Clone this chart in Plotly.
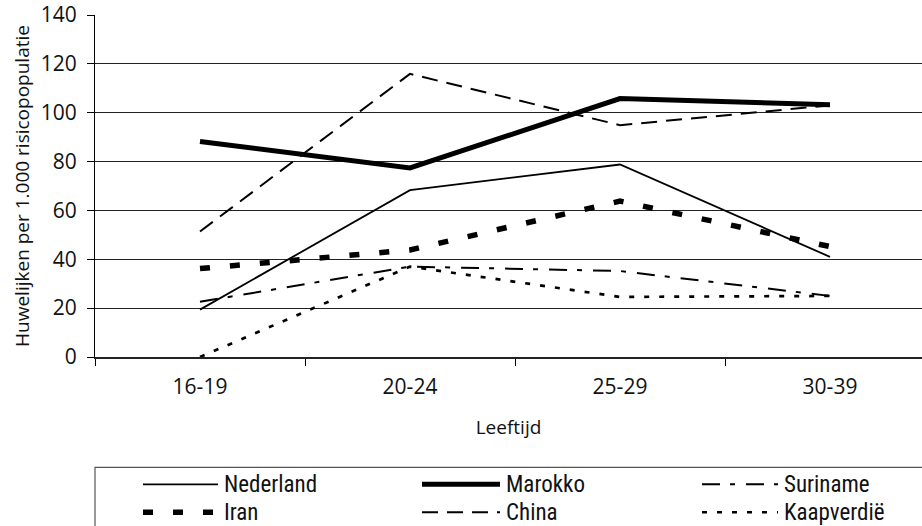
import plotly.graph_objects as go

# ---- data ----
age_groups = ["16-19", "20-24", "25-29", "30-39"]
nederland = [19.4, 68.3, 78.8, 41.0]
marokko = [88.2, 77.4, 105.8, 103.3]
suriname = [22.6, 37.0, 35.2, 25.0]
iran = [36.2, 43.8, 63.8, 45.2]
china = [51.4, 115.9, 94.9, 103.0]
kaapverdie = [0.0, 37.0, 24.6, 25.0]

series_names = ["Nederland", "Marokko", "Suriname", "Iran", "China", "Kaapverdië"]
series_values = [nederland, marokko, suriname, iran, china, kaapverdie]

y_ticks = [0, 20, 40, 60, 80, 100, 120, 140]

# ---- styles ----
styles = {
    "Nederland": dict(width=1.8, dash="solid"),
    "Marokko": dict(width=5.0, dash="solid"),
    "Suriname": dict(width=2.0, dash="18px,10px,5px,11px"),
    "Iran": dict(width=5.5, dash="10px,20px"),
    "China": dict(width=2.0, dash="16px,9px"),
    "Kaapverdie": dict(width=2.7, dash="5px,10px"),
}
style_keys = ["Nederland", "Marokko", "Suriname", "Iran", "China", "Kaapverdie"]

TICK_FONT = "Open Sans, Arial, sans-serif"
LEG_FONT = "Liberation Sans Narrow, Arial Narrow, Roboto Condensed, sans-serif"

# plot area in pixels
L, R, T, B = 95, 922, 15, 357.5
W, H = R - L, B - T


def px(x):
    return (x - L) / W


def py(y):
    return (B - y) / H


fig = go.Figure()
for name, key, vals in zip(series_names, style_keys, series_values):
    st = styles[key]
    fig.add_trace(go.Scatter(
        x=age_groups, y=vals, mode="lines", name=name,
        line=dict(color="black", width=st["width"], dash=st["dash"]),
        showlegend=False, hoverinfo="x+y+name",
    ))

# ---- custom legend (Excel-like long samples) ----
shapes = [dict(type="rect", xref="paper", yref="paper",
               x0=px(95), x1=px(945), y0=py(468), y1=py(545),
               line=dict(color="#555555", width=1.2), fillcolor="rgba(0,0,0,0)")]
annotations = []
col_sample = [(143, 218), (422, 500), (702, 778)]
rows_y = [485, 513]
for i, (name, key) in enumerate(zip(series_names, style_keys)):
    r, c = divmod(i, 3)
    st = styles[key]
    x0, x1 = col_sample[c]
    yy = py(rows_y[r])
    shapes.append(dict(type="line", xref="paper", yref="paper",
                       x0=px(x0), x1=px(x1), y0=yy, y1=yy,
                       line=dict(color="black", width=st["width"], dash=st["dash"])))
    annotations.append(dict(xref="paper", yref="paper", x=px(x1 + 4), y=yy,
                            xanchor="left", yanchor="middle", showarrow=False,
                            text=name, font=dict(family=LEG_FONT, size=23, color="#111111")))

fig.update_layout(
    width=922, height=526,
    margin=dict(l=L, r=922 - R, t=T, b=526 - B, pad=0, autoexpand=False),
    paper_bgcolor="white", plot_bgcolor="white",
    shapes=shapes, annotations=annotations,
    showlegend=False,
)

fig.update_xaxes(
    type="category", categoryorder="array", categoryarray=age_groups,
    range=[-0.5, 3.5 - (935 - 922) / 210], automargin=False,
    showline=True, linecolor="#222222", linewidth=1.5,
    ticks="outside", tickson="boundaries", ticklen=7, tickcolor="black", tickwidth=1,
    ticklabelstandoff=10,
    tickfont=dict(family=TICK_FONT, size=21, color="#111111"),
    showgrid=False, zeroline=False,
    title=dict(text="Leeftijd", font=dict(family=TICK_FONT, size=19, color="#111111"), standoff=22),
)
fig.update_yaxes(
    range=[0, 140], tickvals=y_ticks, automargin=False,
    showline=True, linecolor="black", linewidth=1,
    ticks="outside", ticklen=7, tickcolor="black", tickwidth=1,
    ticklabelstandoff=6,
    tickfont=dict(family=TICK_FONT, size=21, color="#111111"),
    showgrid=True, gridcolor="#222222", gridwidth=1, zeroline=False,
    title=dict(text="Huwelijken per 1.000 risicopopulatie",
               font=dict(family=TICK_FONT, size=19, color="#111111"), standoff=6),
)

fig.write_html("out.html", config={"displayModeBar": False},
               post_script="document.body.style.margin='0';document.body.style.overflow='hidden';")
